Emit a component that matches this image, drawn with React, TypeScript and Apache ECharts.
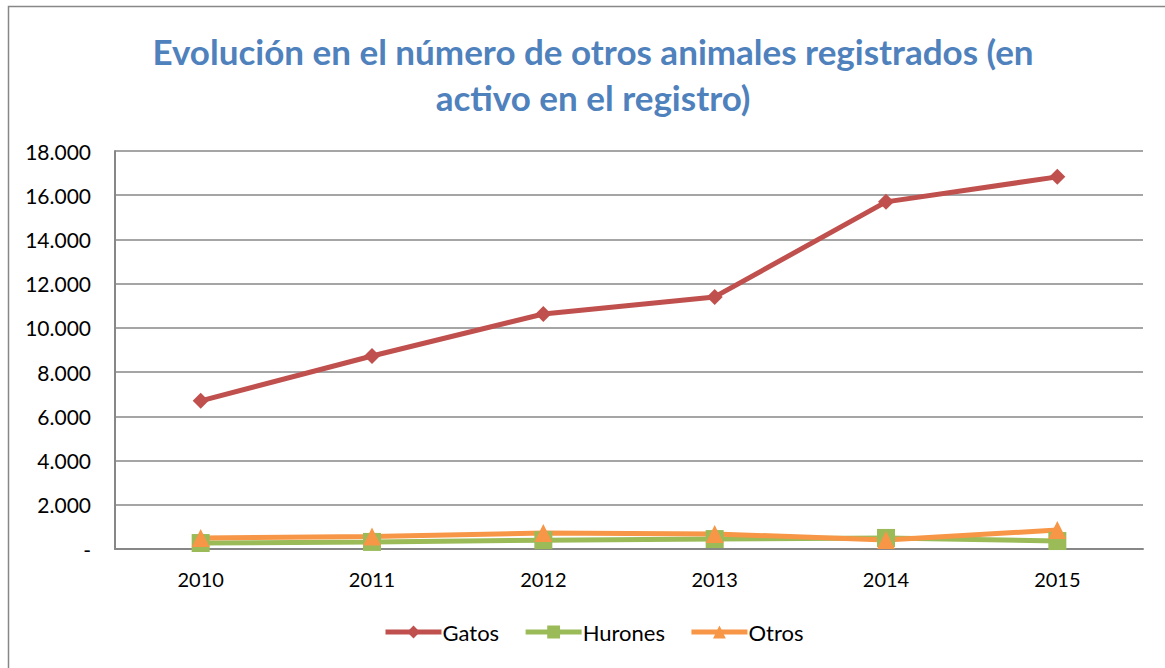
import React, { useEffect, useRef } from "react";
import * as echarts from "echarts";

const years = ["2010", "2011", "2012", "2013", "2014", "2015"];
const gatos = [6700, 8730, 10630, 11400, 15700, 16830];
const hurones = [270, 320, 400, 450, 500, 360];
const otros = [500, 560, 720, 680, 410, 860];

const FONT = "Lato, 'Open Sans', sans-serif";

export default function App() {
  const ref = useRef<HTMLDivElement>(null);
  useEffect(() => {
    const chart = echarts.init(ref.current!, null, { renderer: "svg" });
    const mk = (name: string, data: number[], color: string, symbol: string, size: number) => ({
      name,
      type: "line",
      data,
      symbol,
      symbolSize: size,
      showAllSymbol: true,
      lineStyle: { color, width: 5 },
      itemStyle: { color },
    });
    chart.setOption({
      animation: false,
      backgroundColor: "#fff",
      graphic: [
        {
          type: "rect",
          shape: { x: 8.5, y: 6.5, width: 1200, height: 700 },
          style: { fill: "none", stroke: "#878787", lineWidth: 1.5 },
          silent: true,
        },
      ],
      title: {
        text: "Evolución en el número de otros animales registrados (en\nactivo en el registro)",
        left: 588,
        top: 23,
        textAlign: "center",
        textStyle: {
          color: "#4F81BD",
          fontFamily: FONT,
          fontWeight: "bold",
          fontSize: 35,
          lineHeight: 46,
        },
      },
      legend: {
        bottom: 20,
        left: 378,
        itemWidth: 56,
        itemHeight: 16,
        itemGap: 24,
        lineStyle: { width: 5 },
        textStyle: { fontFamily: FONT, fontSize: 22, color: "#000", padding: [0, 0, 0, -4] },
        data: ["Gatos", "Hurones", "Otros"],
      },
      grid: { left: 115, right: 22, top: 151, bottom: 119, containLabel: false },
      xAxis: {
        type: "category",
        data: years,
        boundaryGap: true,
        axisLine: { lineStyle: { color: "#878787", width: 2 } },
        axisTick: { show: false },
        axisLabel: { fontFamily: FONT, fontSize: 20, color: "#000", margin: 20 },
      },
      yAxis: {
        type: "value",
        min: 0,
        max: 18000,
        interval: 2000,
        axisLine: { show: true, lineStyle: { color: "#878787", width: 2 } },
        axisTick: { show: false },
        splitLine: { lineStyle: { color: "#878787", width: 1.5 } },
        axisLabel: {
          fontFamily: FONT,
          fontSize: 21,
          color: "#000",
          margin: 24,
          formatter: (v: number) =>
            v === 0 ? "-" : v.toLocaleString("de-DE").replace(",", "."),
        },
      },
      series: [
        mk("Gatos", gatos, "#C0504D", "diamond", 16),
        mk("Hurones", hurones, "#9BBB59", "rect", 18),
        mk("Otros", otros, "#F79646", "triangle", 18),
      ],
    });
    return () => chart.dispose();
  }, []);
  return (
    <div
      ref={ref}
      style={{ position: "fixed", left: 0, top: 0, width: 1165, height: 668 }}
    />
  );
}
